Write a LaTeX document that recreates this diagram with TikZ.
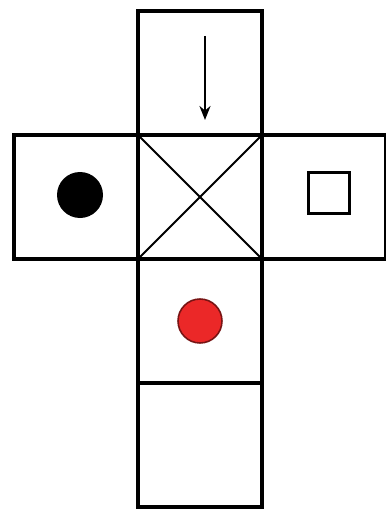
\documentclass[tikz,border=0pt]{standalone}
\usetikzlibrary{arrows.meta,calc,positioning}
\tikzset{
  face/.style={draw,rectangle,minimum width=2.48cm,minimum height=2.48cm,outer sep=0pt,line width=1.8pt},
  dot/.style={circle,fill,inner sep=0pt,minimum size=0.92cm},
  mark box/.style={draw,rectangle,line width=1.4pt,minimum size=0.82cm,inner sep=0pt}
}

\begin{document}
\begin{tikzpicture}[>=Stealth,line join=miter]
  \useasboundingbox (0,0) rectangle (7.72,-10.22);
  \node[face] (mid) at (4,-3.94) {};
  \node[face,above=0pt of mid] (top) {};
  \node[face,left=0pt of mid] (lft) {};
  \node[face,right=0pt of mid] (rgt) {};
  \node[face,below=0pt of mid] (bot1) {};
  \node[face,below=0pt of bot1] (bot2) {};

  % cross on the middle face
  \draw[line width=1.1pt] (mid.north west) -- (mid.south east);
  \draw[line width=1.1pt] (mid.north east) -- (mid.south west);

  % marks on the faces
  \node[dot] (blk) at ($(lft.center)+(0.08,0.04)$) {};
  \node[mark box] (sq) at ($(rgt.center)+(0.1,0.08)$) {};
  \node[dot,fill={rgb,255:red,235;green,40;blue,40},draw={rgb,255:red,120;green,20;blue,20},line width=0.9pt,minimum size=0.88cm] (red) at (bot1.center) {};

  \coordinate (tail) at ($(top.north)+(0.1,-0.5)$);
  \coordinate (head) at ($(top.south)+(0.1,0.3)$);
  \draw[->,line width=1.3pt,>={Stealth[length=2.8mm,width=2.2mm]}] (tail) -- (head);
\end{tikzpicture}
\end{document}
